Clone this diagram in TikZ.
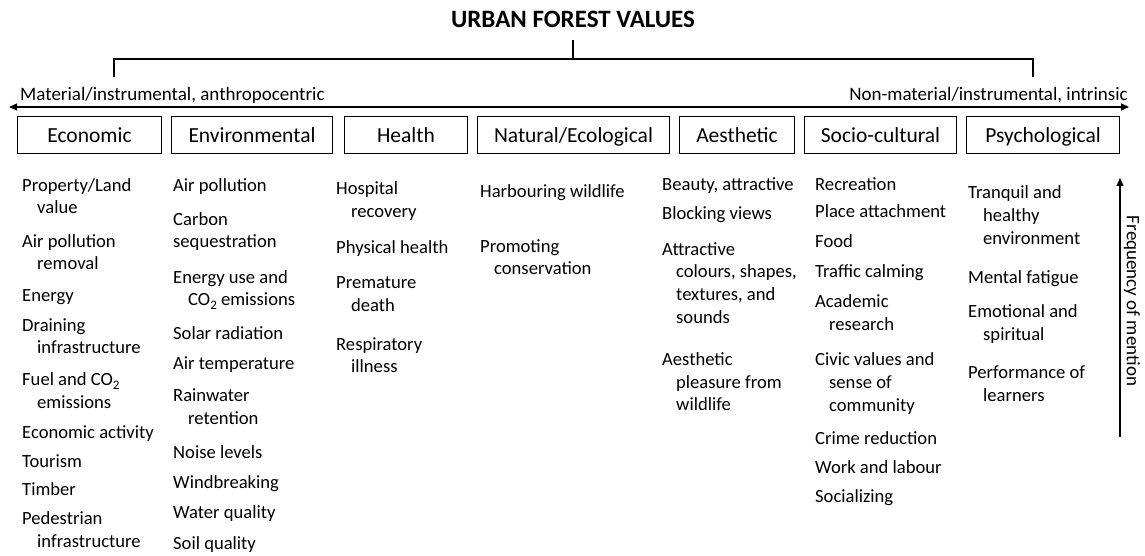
\documentclass[tikz,border=0pt]{standalone}
\usepackage{fontspec}
\setmainfont{Carlito}
\usetikzlibrary{arrows.meta}

\newcommand{\lowtwo}{\raisebox{-4pt}{\fontsize{13}{13}\selectfont 2}}

\tikzset{
    catbox/.style={draw, line width=1.3pt, minimum height=37pt, inner sep=0pt,
        text height=16pt, text depth=0pt, font=\fontsize{21.5}{24}\selectfont},
    item/.style={anchor=base west, inner sep=0pt, font=\fontsize{18.6}{22}\selectfont},
    axislabel/.style={inner sep=0pt, font=\fontsize{19}{22}\selectfont},
    headtip/.style={-{Triangle[length=8pt,width=7pt]}}
}

\begin{document}
\begin{tikzpicture}[x=1pt, y=-1pt]
    \useasboundingbox (0,0) rectangle (1145,556);

    % title and bracket
    \node[anchor=base, inner sep=0pt, font=\bfseries\fontsize{25}{28}\selectfont] (title) at (573,28) {URBAN FOREST VALUES};
    \coordinate (top) at (573,59);
    \coordinate (lft) at (114,77);
    \coordinate (rgt) at (1033,77);
    \draw[line width=1.2pt] ([yshift=-12pt]title.south) -- (top);
    \draw[line width=1.2pt] (lft) |- (top) -| (rgt);

    % axis between the two ends
    \coordinate (axl) at (9,107);
    \coordinate (axr) at (1129,107);
    \draw[line width=1.2pt, {Triangle[length=8pt,width=7pt]}-{Triangle[length=8pt,width=7pt]}] (axl) -- (axr);
    \node[axislabel, anchor=base west] (matl) at (20,101) {Material/instrumental, anthropocentric};
    \node[axislabel, anchor=base east] (nonmatl) at (1128,101) {Non-material/instrumental, intrinsic};

    % categories
    \node[catbox, minimum width=144pt] (eco) at (89.5,135) {Economic};
    \node[catbox, minimum width=161pt] (env) at (252,135) {Environmental};
    \node[catbox, minimum width=123pt] (hea) at (406,135) {Health};
    \node[catbox, minimum width=192pt] (nat) at (573.5,135) {Natural/Ecological};
    \node[catbox, minimum width=115pt] (aes) at (737,135) {Aesthetic};
    \node[catbox, minimum width=152pt] (soc) at (880.5,135) {Socio-cultural};
    \node[catbox, minimum width=153pt] (psy) at (1043,135) {Psychological};

    % Economic
    \node[item] (eco1) at (22,192) {Property/Land};
    \node[item] (eco1b) at (37,214) {value};
    \node[item] (eco2) at (22,247) {Air pollution};
    \node[item] (eco2b) at (37,269) {removal};
    \node[item] (eco3) at (22,301) {Energy};
    \node[item] (eco4) at (22,331) {Draining};
    \node[item] (eco4b) at (37,353) {infrastructure};
    \node[item] (eco5) at (22,385) {Fuel and CO\lowtwo};
    \node[item] (eco5b) at (37,408) {emissions};
    \node[item] (eco6) at (22,438) {Economic activity};
    \node[item] (eco7) at (22,467) {Tourism};
    \node[item] (eco8) at (22,495) {Timber};
    \node[item] (eco9) at (22,524) {Pedestrian};
    \node[item] (eco9b) at (37,547) {infrastructure};

    % Environmental
    \node[item] (env1) at (173,192) {Air pollution};
    \node[item] (env2) at (173,225) {Carbon};
    \node[item] (env2b) at (173,247) {sequestration};
    \node[item] (env3) at (173,283) {Energy use and};
    \node[item] (env3b) at (188,305) {CO\lowtwo{} emissions};
    \node[item] (env4) at (173,339) {Solar radiation};
    \node[item] (env5) at (173,369) {Air temperature};
    \node[item] (env6) at (173,401) {Rainwater};
    \node[item] (env6b) at (188,424) {retention};
    \node[item] (env7) at (173,458) {Noise levels};
    \node[item] (env8) at (173,488) {Windbreaking};
    \node[item] (env9) at (173,518) {Water quality};
    \node[item] (env10) at (173,549) {Soil quality};

    % Health
    \node[item] (hea1) at (336,195) {Hospital};
    \node[item] (hea1b) at (351,217) {recovery};
    \node[item] (hea2) at (336,253) {Physical health};
    \node[item] (hea3) at (336,288) {Premature};
    \node[item] (hea3b) at (351,311) {death};
    \node[item] (hea4) at (336,350) {Respiratory};
    \node[item] (hea4b) at (351,372) {illness};

    % Natural/Ecological
    \node[item] (nat1) at (480,197) {Harbouring wildlife};
    \node[item] (nat2) at (480,252) {Promoting};
    \node[item] (nat2b) at (494,274) {conservation};

    % Aesthetic
    \node[item] (aes1) at (662,190) {Beauty, attractive};
    \node[item] (aes2) at (662,219) {Blocking views};
    \node[item] (aes3) at (662,255) {Attractive};
    \node[item] (aes3b) at (676,277) {colours, shapes,};
    \node[item] (aes3c) at (676,300) {textures, and};
    \node[item] (aes3d) at (676,323) {sounds};
    \node[item] (aes4) at (662,365) {Aesthetic};
    \node[item] (aes4b) at (676,388) {pleasure from};
    \node[item] (aes4c) at (676,410) {wildlife};

    % Socio-cultural
    \node[item] (soc1) at (815,190) {Recreation};
    \node[item] (soc2) at (815,218) {Place attachment};
    \node[item] (soc3) at (815,247) {Food};
    \node[item] (soc4) at (815,277) {Traffic calming};
    \node[item] (soc5) at (815,307) {Academic};
    \node[item] (soc5b) at (829,330) {research};
    \node[item] (soc6) at (815,365) {Civic values and};
    \node[item] (soc6b) at (829,388) {sense of};
    \node[item] (soc6c) at (829,411) {community};
    \node[item] (soc7) at (815,444) {Crime reduction};
    \node[item] (soc8) at (815,473) {Work and labour};
    \node[item] (soc9) at (815,502) {Socializing};

    % Psychological
    \node[item] (psy1) at (968,198) {Tranquil and};
    \node[item] (psy1b) at (983,221) {healthy};
    \node[item] (psy1c) at (983,244) {environment};
    \node[item] (psy2) at (968,283) {Mental fatigue};
    \node[item] (psy3) at (968,317) {Emotional and};
    \node[item] (psy3b) at (983,340) {spiritual};
    \node[item] (psy4) at (968,378) {Performance of};
    \node[item] (psy4b) at (983,401) {learners};

    % frequency arrow
    \coordinate (frlo) at (1120,437);
    \coordinate (frhi) at (1120,178);
    \draw[line width=1.3pt, headtip] (frlo) -- (frhi);
    \node[axislabel, rotate=-90] (freq) at (1132,301) {Frequency of mention};
\end{tikzpicture}
\end{document}
